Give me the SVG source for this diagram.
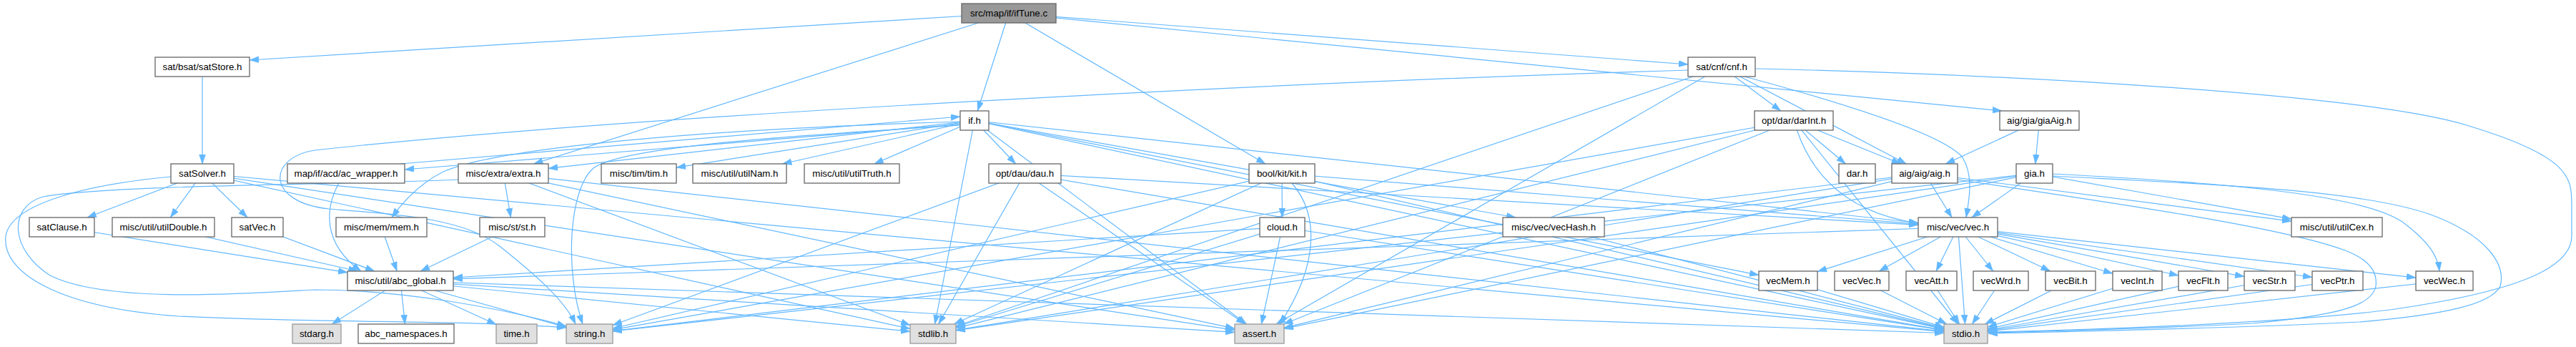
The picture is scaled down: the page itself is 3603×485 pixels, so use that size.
<svg xmlns="http://www.w3.org/2000/svg" width="3603" height="485" viewBox="0 0 3603 485">
<style>
.e{fill:none;stroke:#63b8ff;stroke-width:1.2;marker-end:url(#a)}
.n rect{fill:#ffffff;stroke:#666666;stroke-width:1.3}
.s rect{fill:#e0e0e0;stroke:#999999;stroke-width:1.3}
.r rect{fill:#999999;stroke:#666666;stroke-width:1.3}
text{font-family:"Liberation Sans",Arial,Helvetica,sans-serif;font-size:13.3px;text-anchor:middle;fill:#000000}
</style>
<defs>
<marker id="a" markerUnits="userSpaceOnUse" markerWidth="14" markerHeight="10" refX="13" refY="4.5" orient="auto">
<path d="M0,0 L13,4.5 L0,9 z" fill="#63b8ff" stroke="#63b8ff" stroke-width="0.5"/>
</marker>
</defs>
<rect x="0" y="0" width="3603" height="485" fill="#ffffff"/>
<g id="edges">
<path class="e" d="M1411,18.5 L349,84"/>
<path class="e" d="M1411,18.5 L1367.3,155"/>
<path class="e" d="M1411,18.5 L746.6,229"/>
<path class="e" d="M1411,18.5 L1770,229"/>
<path class="e" d="M1411,18.5 L2361,90"/>
<path class="e" d="M1411,18.5 L2800,155"/>
<path class="e" d="M283,93.5 L283,229"/>
<path class="e" d="M283,242.5 L121.9,304"/>
<path class="e" d="M283,242.5 L238.3,304"/>
<path class="e" d="M283,242.5 L346.1,304"/>
<path class="e" d="M283,242.5 L1273,459.5"/>
<path class="e" d="M283,242.5 L1727,461.3"/>
<path class="e" d="M283,242.5 L2719,463.7"/>
<path class="e" d="M239,247 C120,258 15,285 8,330 C2,380 80,430 250,442 C450,452 650,447 792,458"/>
<path class="e" d="M86.5,317.5 L486,380.8"/>
<path class="e" d="M228.5,317.5 L500.3,379"/>
<path class="e" d="M360,317.5 L524,379"/>
<path class="e" d="M1363,168.5 L2719,459.9"/>
<path class="e" d="M1363,168.5 L1307.6,453"/>
<path class="e" d="M1363,168.5 L1743.5,453"/>
<path class="e" d="M1363,168.5 L2683,311.5"/>
<path class="e" d="M1363,168.5 L946,234.2"/>
<path class="e" d="M1363,168.5 L1094.4,229"/>
<path class="e" d="M1363,168.5 L1222.8,229"/>
<path class="e" d="M1363,168.5 L2460,384.4"/>
<path class="e" d="M1363,168.5 L1420.6,229"/>
<path class="e" d="M1363,168.5 L2120,304"/>
<path class="e" d="M1363,168.5 L767,235.4"/>
<path class="e" d="M1363,172 L566,237"/>
<path class="e" d="M1343,170 C1000,180 700,205 620,240 C590,255 565,280 548,304"/>
<path class="e" d="M1345,175 C1100,190 870,205 830,235 C795,265 790,380 815,453"/>
<path class="e" d="M560,229 L1343,163"/>
<path class="e" d="M474,256 C455,290 450,340 505,379"/>
<path class="e" d="M704,242.5 L714.4,304"/>
<path class="e" d="M704,242.5 L1273,454.6"/>
<path class="e" d="M704,242.5 L1727,459.2"/>
<path class="e" d="M704,242.5 L2719,463.2"/>
<path class="e" d="M641,251 C500,258 150,258 60,275 C10,290 15,350 70,385 C150,425 350,410 440,405 C560,405 700,430 792,456"/>
<path class="e" d="M533.5,317.5 L555.2,379"/>
<path class="e" d="M716.5,317.5 L588.2,379"/>
<path class="e" d="M560,392.5 L464.3,453"/>
<path class="e" d="M560,392.5 L566.5,453"/>
<path class="e" d="M560,392.5 L694,453.5"/>
<path class="e" d="M560,392.5 L792,457.4"/>
<path class="e" d="M560,392.5 L1273,463.3"/>
<path class="e" d="M560,392.5 L1727,464.4"/>
<path class="e" d="M560,392.5 L2719,465.5"/>
<path class="e" d="M1433.5,242.5 L2719,461.3"/>
<path class="e" d="M1433.5,242.5 L1312.7,453"/>
<path class="e" d="M1433.5,242.5 L857,454.5"/>
<path class="e" d="M1433.5,242.5 L1741.7,453"/>
<path class="e" d="M1433.5,242.5 L2683,314.3"/>
<path class="e" d="M1793,242.5 L1793.4,304"/>
<path class="e" d="M1793,242.5 L2719,459.4"/>
<path class="e" d="M1793,242.5 L1334.4,453"/>
<path class="e" d="M1793,242.5 L857,459"/>
<path class="e" d="M1807,256 C1845,300 1845,370 1790,453"/>
<path class="e" d="M1793,242.5 L2683,313.1"/>
<path class="e" d="M1793.5,317.5 L2719,461.7"/>
<path class="e" d="M1793.5,317.5 L1337,456.7"/>
<path class="e" d="M1793.5,317.5 L1764.4,453"/>
<path class="e" d="M1793.5,317.5 L634,388"/>
<path class="e" d="M2173,317.5 L2719,458.6"/>
<path class="e" d="M2408,93.5 L2490.8,155"/>
<path class="e" d="M2408,93.5 L2666.3,229"/>
<path class="e" d="M2408,93.5 L1337,455.7"/>
<path class="e" d="M2408,93.5 L1784.9,453"/>
<path class="e" d="M2440,107 C2600,150 2720,190 2745,220 C2760,245 2755,275 2750,304"/>
<path class="e" d="M2456,96 C2800,104 3300,130 3450,175 C3600,220 3597,250 3597,290 L3597,330 C3597,380 3500,410 3350,432 C3200,452 2900,462 2781,464"/>
<path class="e" d="M2361,98 C1800,115 900,160 440,210 C375,220 370,282 460,292 C560,300 650,305 700,345 C750,385 790,420 805,453"/>
<path class="e" d="M2509,168.5 L2581.4,229"/>
<path class="e" d="M2509,168.5 L2658.6,229"/>
<path class="e" d="M2509,168.5 L2738.6,453"/>
<path class="e" d="M2509,168.5 L1337,458.6"/>
<path class="e" d="M2509,168.5 L857,460.8"/>
<path class="e" d="M2509,168.5 L1795.4,453"/>
<path class="e" d="M2513,181 C2540,260 2600,300 2683,312"/>
<path class="e" d="M2692,242.5 L2730.1,304"/>
<path class="e" d="M2692,242.5 L3205,309.2"/>
<path class="e" d="M2692,242.5 L1337,461.3"/>
<path class="e" d="M2692,242.5 L857,462.6"/>
<path class="e" d="M2692,242.5 L1796,458.2"/>
<path class="e" d="M2738,251 C3000,290 3200,320 3280,350 C3320,365 3325,385 3323,400 C3318,425 3280,440 3150,452 C3000,460 2850,463 2781,465"/>
<path class="e" d="M2845.5,242.5 L2757.8,304"/>
<path class="e" d="M2845.5,242.5 L3205,306.2"/>
<path class="e" d="M2845.5,242.5 L1337,461.8"/>
<path class="e" d="M2845.5,242.5 L857,462.9"/>
<path class="e" d="M2845.5,242.5 L1796,459.4"/>
<path class="e" d="M2871,243 C3100,255 3300,270 3360,310 C3400,340 3410,360 3412,379"/>
<path class="e" d="M2871,246 C3100,258 3300,265 3400,300 C3480,330 3505,370 3497,400 C3485,425 3420,440 3300,450 C3100,460 2900,463 2781,466"/>
<path class="e" d="M2852.5,168.5 L2721.3,229"/>
<path class="e" d="M2852.5,168.5 L2846.8,229"/>
<path class="e" d="M2738.5,317.5 L634,389.9"/>
<path class="e" d="M2738.5,317.5 L2542,379.6"/>
<path class="e" d="M2738.5,317.5 L2628.2,379"/>
<path class="e" d="M2738.5,317.5 L2708.2,379"/>
<path class="e" d="M2738.5,317.5 L2787.7,379"/>
<path class="e" d="M2738.5,317.5 L2867.7,379"/>
<path class="e" d="M2738.5,317.5 L2955,382.2"/>
<path class="e" d="M2738.5,317.5 L3047,385"/>
<path class="e" d="M2738.5,317.5 L3139,386.4"/>
<path class="e" d="M2738.5,317.5 L3234,387.5"/>
<path class="e" d="M2738.5,317.5 L3379,388.1"/>
<path class="e" d="M2738.5,317.5 L2748.5,453"/>
<path class="e" d="M2501,392.5 L2719,457.4"/>
<path class="e" d="M2604,392.5 L2723,453"/>
<path class="e" d="M2701.5,392.5 L2740.7,453"/>
<path class="e" d="M2798.5,392.5 L2758.4,453"/>
<path class="e" d="M2896,392.5 L2776.2,453"/>
<path class="e" d="M2989.5,392.5 L2780,457.1"/>
<path class="e" d="M3081.5,392.5 L2780,459.7"/>
<path class="e" d="M3174.5,392.5 L2780,461.2"/>
<path class="e" d="M3269.5,392.5 L2780,462.2"/>
<path class="e" d="M3419,392.5 L2780,463.1"/>
</g>
<g id="n_ifTune" class="r"><rect x="1345" y="5" width="132" height="27"/><text x="1411" y="23.1">src/map/if/ifTune.c</text></g>
<g id="n_satStore" class="n"><rect x="217" y="80" width="132" height="27"/><text x="283" y="98.1">sat/bsat/satStore.h</text></g>
<g id="n_cnf" class="n"><rect x="2361" y="80" width="94" height="27"/><text x="2408" y="98.1">sat/cnf/cnf.h</text></g>
<g id="n_if" class="n"><rect x="1343" y="155" width="40" height="27"/><text x="1363" y="173.1">if.h</text></g>
<g id="n_darInt" class="n"><rect x="2454" y="155" width="110" height="27"/><text x="2509" y="173.1">opt/dar/darInt.h</text></g>
<g id="n_giaAig" class="n"><rect x="2797" y="155" width="111" height="27"/><text x="2852.5" y="173.1">aig/gia/giaAig.h</text></g>
<g id="n_satSolver" class="n"><rect x="239" y="229" width="88" height="27"/><text x="283" y="247.1">satSolver.h</text></g>
<g id="n_ac_wrapper" class="n"><rect x="402" y="229" width="164" height="27"/><text x="484" y="247.1">map/if/acd/ac_wrapper.h</text></g>
<g id="n_extra" class="n"><rect x="641" y="229" width="126" height="27"/><text x="704" y="247.1">misc/extra/extra.h</text></g>
<g id="n_tim" class="n"><rect x="841" y="229" width="105" height="27"/><text x="893.5" y="247.1">misc/tim/tim.h</text></g>
<g id="n_utilNam" class="n"><rect x="969" y="229" width="131" height="27"/><text x="1034.5" y="247.1">misc/util/utilNam.h</text></g>
<g id="n_utilTruth" class="n"><rect x="1125" y="229" width="133" height="27"/><text x="1191.5" y="247.1">misc/util/utilTruth.h</text></g>
<g id="n_dau" class="n"><rect x="1383" y="229" width="101" height="27"/><text x="1433.5" y="247.1">opt/dau/dau.h</text></g>
<g id="n_kit" class="n"><rect x="1747" y="229" width="92" height="27"/><text x="1793" y="247.1">bool/kit/kit.h</text></g>
<g id="n_dar" class="n"><rect x="2572" y="229" width="51" height="27"/><text x="2597.5" y="247.1">dar.h</text></g>
<g id="n_aig" class="n"><rect x="2646" y="229" width="92" height="27"/><text x="2692" y="247.1">aig/aig/aig.h</text></g>
<g id="n_gia" class="n"><rect x="2820" y="229" width="51" height="27"/><text x="2845.5" y="247.1">gia.h</text></g>
<g id="n_satClause" class="n"><rect x="41" y="304" width="91" height="27"/><text x="86.5" y="322.1">satClause.h</text></g>
<g id="n_utilDouble" class="n"><rect x="157" y="304" width="143" height="27"/><text x="228.5" y="322.1">misc/util/utilDouble.h</text></g>
<g id="n_satVec" class="n"><rect x="324" y="304" width="72" height="27"/><text x="360" y="322.1">satVec.h</text></g>
<g id="n_mem" class="n"><rect x="470" y="304" width="127" height="27"/><text x="533.5" y="322.1">misc/mem/mem.h</text></g>
<g id="n_st" class="n"><rect x="671" y="304" width="91" height="27"/><text x="716.5" y="322.1">misc/st/st.h</text></g>
<g id="n_cloud" class="n"><rect x="1762" y="304" width="63" height="27"/><text x="1793.5" y="322.1">cloud.h</text></g>
<g id="n_vecHash" class="n"><rect x="2102" y="304" width="142" height="27"/><text x="2173" y="322.1">misc/vec/vecHash.h</text></g>
<g id="n_vec" class="n"><rect x="2683" y="304" width="111" height="27"/><text x="2738.5" y="322.1">misc/vec/vec.h</text></g>
<g id="n_utilCex" class="n"><rect x="3205" y="304" width="127" height="27"/><text x="3268.5" y="322.1">misc/util/utilCex.h</text></g>
<g id="n_abc_global" class="n"><rect x="486" y="379" width="148" height="27"/><text x="560" y="397.1">misc/util/abc_global.h</text></g>
<g id="n_vecMem" class="n"><rect x="2460" y="379" width="82" height="27"/><text x="2501" y="397.1">vecMem.h</text></g>
<g id="n_vecVec" class="n"><rect x="2566" y="379" width="76" height="27"/><text x="2604" y="397.1">vecVec.h</text></g>
<g id="n_vecAtt" class="n"><rect x="2666" y="379" width="71" height="27"/><text x="2701.5" y="397.1">vecAtt.h</text></g>
<g id="n_vecWrd" class="n"><rect x="2760" y="379" width="77" height="27"/><text x="2798.5" y="397.1">vecWrd.h</text></g>
<g id="n_vecBit" class="n"><rect x="2861" y="379" width="70" height="27"/><text x="2896" y="397.1">vecBit.h</text></g>
<g id="n_vecInt" class="n"><rect x="2955" y="379" width="69" height="27"/><text x="2989.5" y="397.1">vecInt.h</text></g>
<g id="n_vecFlt" class="n"><rect x="3047" y="379" width="69" height="27"/><text x="3081.5" y="397.1">vecFlt.h</text></g>
<g id="n_vecStr" class="n"><rect x="3139" y="379" width="71" height="27"/><text x="3174.5" y="397.1">vecStr.h</text></g>
<g id="n_vecPtr" class="n"><rect x="3234" y="379" width="71" height="27"/><text x="3269.5" y="397.1">vecPtr.h</text></g>
<g id="n_vecWec" class="n"><rect x="3379" y="379" width="80" height="27"/><text x="3419" y="397.1">vecWec.h</text></g>
<g id="n_stdarg" class="s"><rect x="409" y="453" width="68" height="27"/><text x="443" y="471.1">stdarg.h</text></g>
<g id="n_abc_namespaces" class="n"><rect x="501" y="453" width="134" height="27"/><text x="568" y="471.1">abc_namespaces.h</text></g>
<g id="n_time" class="s"><rect x="694" y="453" width="57" height="27"/><text x="722.5" y="471.1">time.h</text></g>
<g id="n_string" class="s"><rect x="792" y="453" width="65" height="27"/><text x="824.5" y="471.1">string.h</text></g>
<g id="n_stdlib" class="s"><rect x="1273" y="453" width="64" height="27"/><text x="1305" y="471.1">stdlib.h</text></g>
<g id="n_assert" class="s"><rect x="1727" y="453" width="69" height="27"/><text x="1761.5" y="471.1">assert.h</text></g>
<g id="n_stdio" class="s"><rect x="2719" y="453" width="61" height="27"/><text x="2749.5" y="471.1">stdio.h</text></g>
</svg>
